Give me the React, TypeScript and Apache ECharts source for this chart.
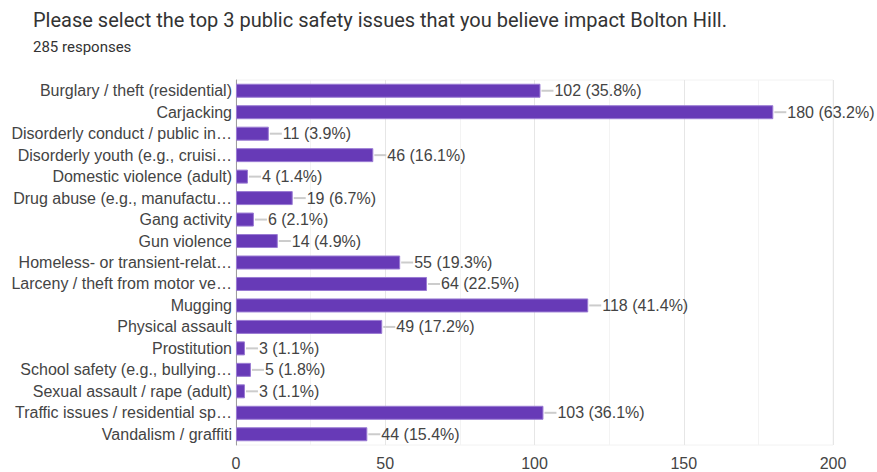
import React, { useEffect, useRef } from "react";
import * as echarts from "echarts";

const TITLE = "Please select the top 3 public safety issues that you believe impact Bolton Hill.";
const SUBTITLE = "285 responses";

const categories = [
  "Burglary / theft (residential)",
  "Carjacking",
  "Disorderly conduct / public in…",
  "Disorderly youth (e.g., cruisi…",
  "Domestic violence (adult)",
  "Drug abuse (e.g., manufactu…",
  "Gang activity",
  "Gun violence",
  "Homeless- or transient-relat…",
  "Larceny / theft from motor ve…",
  "Mugging",
  "Physical assault",
  "Prostitution",
  "School safety (e.g., bullying…",
  "Sexual assault / rape (adult)",
  "Traffic issues / residential sp…",
  "Vandalism / graffiti",
];

const counts = [102, 180, 11, 46, 4, 19, 6, 14, 55, 64, 118, 49, 3, 5, 3, 103, 44];
const percents = ["35.8", "63.2", "3.9", "16.1", "1.4", "6.7", "2.1", "4.9", "19.3", "22.5", "41.4", "17.2", "1.1", "1.8", "1.1", "36.1", "15.4"];

const xTicks = [0, 50, 100, 150, 200];

export default function App() {
  const ref = useRef<HTMLDivElement>(null);
  useEffect(() => {
    if (!ref.current) return;
    const chart = echarts.init(ref.current, null, { renderer: "svg" });
    const labelData = counts.map((v, i) => [v, i, percents[i]]);
    chart.setOption({
      animation: false,
      backgroundColor: "#ffffff",
      title: {
        text: TITLE,
        subtext: SUBTITLE,
        left: 28,
        top: 5,
        itemGap: 9,
        textStyle: { fontFamily: "Roboto", fontSize: 20, fontWeight: "normal", color: "#333" },
        subtextStyle: { fontFamily: "Roboto", fontSize: 15, color: "#333" },
      },
      grid: { left: 236, right: 44, top: 80, bottom: 27, show: true, borderColor: "#f2f2f2", borderWidth: 1 },
      xAxis: {
        type: "value",
        min: xTicks[0],
        max: xTicks[xTicks.length - 1],
        interval: 50,
        axisLine: { show: false },
        axisTick: { show: false },
        axisLabel: { fontFamily: "Liberation Sans", fontSize: 16, color: "#444", margin: 10 },
        splitLine: { show: true, lineStyle: { color: "#e6e6e6" } },
        minorTick: { show: false, splitNumber: 2 },
        minorSplitLine: { show: true, lineStyle: { color: "#f3f3f3" } },
      },
      yAxis: {
        type: "category",
        data: categories,
        inverse: true,
        axisLine: { show: true, lineStyle: { color: "#9e9e9e", width: 1 } },
        axisTick: { show: false },
        axisLabel: { fontFamily: "Liberation Sans", fontSize: 16, color: "#444", margin: 4 },
        splitLine: { show: false },
      },
      series: [
        {
          type: "bar",
          data: counts,
          barWidth: 14,
          itemStyle: { color: "#673ab7", borderColor: "#9a7bd3", borderWidth: 1 },
          silent: true,
        },
        {
          type: "custom",
          data: labelData,
          encode: { x: 0, y: 1 },
          renderItem: (params: any, api: any) => {
            const v = api.value(0);
            const idx = api.value(1);
            const p = labelData[params.dataIndex][2];
            const pt = api.coord([v, idx]);
            const x = pt[0];
            const y = pt[1];
            return {
              type: "group",
              children: [
                {
                  type: "line",
                  shape: { x1: x + 1, y1: y, x2: x + 13, y2: y },
                  style: { stroke: "#cccccc", lineWidth: 2 },
                },
                {
                  type: "text",
                  style: {
                    x: x + 14,
                    y: y,
                    text: `${v} (${p}%)`,
                    fontFamily: "Liberation Sans",
                    fontSize: 16,
                    fill: "#444",
                    verticalAlign: "middle",
                    align: "left",
                  },
                },
              ],
            };
          },
          silent: true,
          z: 5,
        },
      ],
    });
    return () => chart.dispose();
  }, []);
  return <div ref={ref} style={{ width: 877, height: 472, position: "absolute", left: 0, top: 0 }} />;
}
